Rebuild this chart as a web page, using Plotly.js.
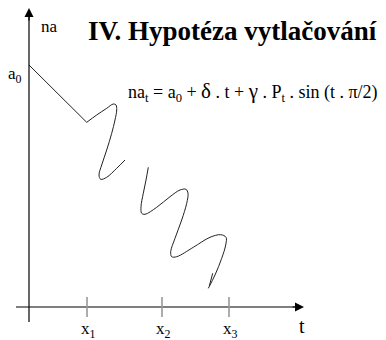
<!DOCTYPE html>
<html><head><meta charset="utf-8">
<script src="https://cdn.plot.ly/plotly-3.0.1.min.js"></script>
<style>html,body{margin:0;padding:0;background:#fff}#c{width:386px;height:340px}</style>
</head><body><div id="c"></div>
<script>
// data in chart units: t along horizontal axis, na along vertical axis (origin at axis crossing)
const trendT = [0, 57.7];
const trendNa = [242, 184.7];
const wave1T = [57.7, 67.7, 77.7, 84.3, 87, 87.7, 86, 82.7, 77.7, 72.7, 70, 71.7, 77.7, 87.7, 96];
const wave1Na = [184.7, 192, 198.7, 203, 202, 197, 187, 173.7, 157, 142, 132, 127.7, 129.7, 138.7, 147];
const wave2T = [119.3, 117, 114.3, 112, 112.7, 116, 127.7, 141, 151, 157, 159, 157.7, 152.7, 146, 141.7, 142.7, 147.7, 164.3, 181, 191.7, 197, 196.7, 192.7, 186, 179.3];
const wave2Na = [139.7, 127, 113.7, 100.3, 93.7, 92.7, 99.7, 110.3, 117, 117.7, 113.7, 103.7, 87, 68.7, 55.3, 50.3, 50.3, 59.7, 69.7, 72.3, 69.7, 62, 48.7, 32, 18.7];
const tailT = [183.7, 180.3];
const tailNa = [33.7, 21];
const tickPos = [58, 133, 200];
const tickLabels = ['x<sub>1</sub>', 'x<sub>2</sub>', 'x<sub>3</sub>'];
const titleText = '<b>IV. Hypotéza vytlačování</b>';
const formulaText = 'na<sub>t</sub> = a<sub>0</sub> + <span style="font-size:21px">δ</span> . t + <span style="font-size:21px">γ</span> . P<sub>t</sub> . sin (t . π/2)';

const serif = 'Liberation Serif';
const lineStyle = {color: '#222', width: 1};
const traces = [
  {x: trendT, y: trendNa, mode: 'lines', line: lineStyle, hoverinfo: 'skip'},
  {x: wave1T, y: wave1Na, mode: 'lines', line: Object.assign({shape: 'spline', smoothing: 1}, lineStyle), hoverinfo: 'skip'},
  {x: wave2T, y: wave2Na, mode: 'lines', line: Object.assign({shape: 'spline', smoothing: 1}, lineStyle), hoverinfo: 'skip'},
  {x: tailT, y: tailNa, mode: 'lines', line: lineStyle, hoverinfo: 'skip'}
];

const shapes = [
  {type: 'line', xref: 'x', yref: 'y', x0: -13, x1: 270, y0: 0, y1: 0, line: {color: '#000', width: 1.2}},
  {type: 'line', xref: 'x', yref: 'y', x0: 0, x1: 0, y0: -15, y1: 292, line: {color: '#000', width: 1.2}}
];
tickPos.forEach(p => shapes.push({type: 'line', xref: 'x', yref: 'y', x0: p, x1: p, y0: -10, y1: 10, line: {color: '#999', width: 1.6}}));

const annotations = [
  {x: 0, y: 299, ax: 0, ay: 285, axref: 'x', ayref: 'y', xref: 'x', yref: 'y', text: '', showarrow: true, arrowhead: 2, arrowsize: 1.5, arrowwidth: 1.2, arrowcolor: '#000'},
  {x: 275, y: 0, ax: 262, ay: 0, axref: 'x', ayref: 'y', xref: 'x', yref: 'y', text: '', showarrow: true, arrowhead: 2, arrowsize: 1.5, arrowwidth: 1.2, arrowcolor: '#000'},
  {x: 20, y: 281, xref: 'x', yref: 'y', text: 'na', showarrow: false, font: {family: serif, size: 17, color: '#000'}},
  {x: -14, y: 232, xref: 'x', yref: 'y', text: 'a<sub>0</sub>', showarrow: false, font: {family: serif, size: 17, color: '#000'}},
  {x: 203.5, y: 276, xref: 'x', yref: 'y', text: titleText, showarrow: false, font: {family: serif, size: 27, color: '#000'}},
  {x: 97, y: 215, xref: 'x', yref: 'y', xanchor: 'left', text: formulaText, showarrow: false, font: {family: serif, size: 18, color: '#000'}},
  {x: 273, y: -19, xref: 'x', yref: 'y', text: 't', showarrow: false, font: {family: serif, size: 20, color: '#000'}}
];
tickPos.forEach((p, i) => annotations.push({x: p + 1, y: -23, xref: 'x', yref: 'y', text: tickLabels[i], showarrow: false, font: {family: serif, size: 17, color: '#000'}}));

const layout = {
  width: 386, height: 340,
  margin: {l: 0, r: 0, t: 0, b: 0},
  paper_bgcolor: '#fff', plot_bgcolor: '#fff',
  showlegend: false,
  font: {family: serif},
  xaxis: {range: [-29, 357], visible: false, fixedrange: true},
  yaxis: {range: [-33, 307], visible: false, fixedrange: true},
  shapes: shapes,
  annotations: annotations
};
Plotly.newPlot('c', traces, layout, {displayModeBar: false, staticPlot: true});
</script>
</body></html>
